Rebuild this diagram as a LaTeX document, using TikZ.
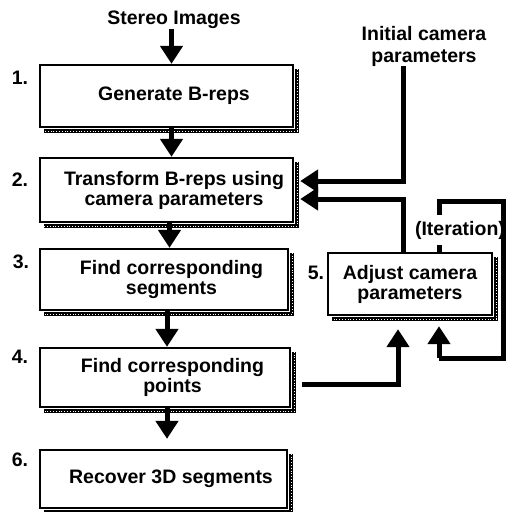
\documentclass[tikz,border=0pt]{standalone}
\usepackage{fontspec}
\setmainfont{Liberation Sans}
\usetikzlibrary{arrows.meta, calc, positioning}

\newcommand{\pad}{\hspace*{15pt}}

\tikzset{
  stepbox/.style={draw, line width=2.3pt, fill=white, align=center, inner sep=0pt,
    font=\fontsize{19.5}{20}\selectfont\bfseries},
  txt/.style={align=center, inner sep=0pt, font=\fontsize{19.5}{22}\selectfont\bfseries},
  numlbl/.style={inner sep=0pt, font=\fontsize{19.5}{22}\selectfont\bfseries},
  flow/.style={line width=5pt, -{Triangle[length=18pt,width=22pt]}},
  wire/.style={line width=5pt},
  shadowline/.style={line width=4.5pt},
  shadowdots/.style={white, line width=1pt, dash pattern=on 0.8pt off 2pt},
}

\begin{document}
\begin{tikzpicture}[x=1pt, y=-1pt]
    \useasboundingbox (0,0) rectangle (507,512);

    % inputs
    \node[txt] (si) at (174,20) {Stereo Images};
    \node[txt] (icp) at (424,46) {Initial camera\\parameters};

    % steps
    \node[stepbox, minimum width=253, minimum height=62] (b1) at (166.5,96) {\pad Generate B-reps};
    \node[stepbox, minimum width=253, minimum height=64] (b2) at (166.5,190) {\pad Transform B-reps using\\\pad camera parameters};
    \node[stepbox, minimum width=248, minimum height=61] (b3) at (164,279.5) {\pad Find corresponding\\\pad segments};
    \node[stepbox, minimum width=250, minimum height=59] (b4) at (165,377.5) {\pad Find corresponding\\\pad points};
    \node[stepbox, minimum width=247, minimum height=58] (b6) at (163.5,479) {\pad Recover 3D segments};
    \node[stepbox, minimum width=164, minimum height=62] (b5) at (410,284) {Adjust camera\\parameters};

    % shadows
    \foreach \b in {b1,b2,b3,b4,b6,b5}{
        \draw[shadowline] ($(\b.north east)+(3,5)$) -- ($(\b.south east)+(3,3)$) -- ($(\b.south west)+(5,3)$);
        \draw[shadowdots] ($(\b.north east)+(3,5)$) -- ($(\b.south east)+(3,3)$) -- ($(\b.south west)+(5,3)$);
    }

    % numbers
    \node[numlbl] (n1) at (20,78) {1.};
    \node[numlbl] (n2) at (20,180) {2.};
    \node[numlbl] (n3) at (21,262) {3.};
    \node[numlbl] (n4) at (20,357) {4.};
    \node[numlbl] (n6) at (20,460) {6.};
    \node[numlbl] (n5) at (316,273) {5.};

    \node[txt, inner ysep=6pt] (it) at (460,230) {(Iteration)};

    % main flow
    \draw[flow] (si.south -| b1.north) ++(5,0) coordinate (s0) -- (s0 |- b1.north);
    \draw[flow] ($(b1.south)+(5,0)$) -- ($(b2.north)+(5,0)$);
    \draw[flow] ($(b2.south)+(3,0)$) -- ($(b3.north)+(5.5,0)$);
    \draw[flow] ($(b3.south)+(3,0)$) -- ($(b3.south |- b4.north)+(3,0)$);
    \draw[flow] ($(b4.south)+(2,0)$) -- ($(b4.south |- b6.north)+(2,-10)$);

    % camera parameters
    \coordinate (k1) at (403,181);
    \coordinate (k2) at (403,199);
    \coordinate (k3) at (398,384);
    \draw[flow] (icp.south -| k1) -- (k1) -- ($(b2.east |- k1)+(6,0)$);
    \draw[flow] (b5.north -| k2) -- (k2) -- ($(b2.east |- k2)+(6,0)$);
    \draw[flow] ($(b4.east |- k3)+(11,0)$) -- (k3) -- ($(b5.south -| k3)+(0,13)$);

    % iteration loop
    \coordinate (l1) at (439,201);
    \coordinate (l2) at (503,201);
    \coordinate (l3) at (503,358);
    \coordinate (l4) at (439,358);
    \draw[wire] (it.north -| l1) -- (l1) -- (l2) -- (l3) -- (l4);
    \draw[flow] (l4) -- ($(b5.south -| l4)+(0,10)$);
    \draw[wire] (it.south -| l1) -- (b5.north -| l1);
\end{tikzpicture}
\end{document}
